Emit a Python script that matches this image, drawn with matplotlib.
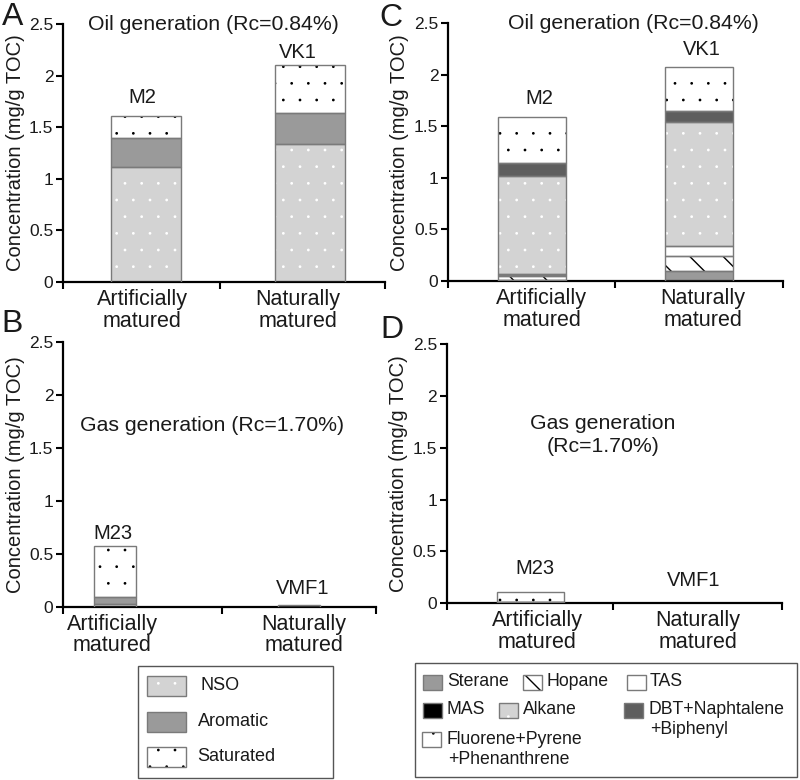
import matplotlib
matplotlib.use("Agg")
import matplotlib.pyplot as plt
import matplotlib.hatch as mhatch
from matplotlib.patches import Rectangle
import numpy as np

plt.rcParams['font.family'] = ['Liberation Sans', 'DejaVu Sans']
plt.rcParams['hatch.linewidth'] = 1.0
# smaller dots for the '.' hatch (texture only)
mhatch.SmallFilledCircles.size = 0.04

# ---------------- data ----------------
categories = ["Artificially\nmatured", "Naturally\nmatured"]
yticks = [0, 0.5, 1, 1.5, 2, 2.5]
ytick_labels = ["0", "0.5", "1", "1.5", "2", "2.5"]

# Panels A/B : bulk fractions (mg/g TOC)
bulk_components = ["NSO", "Aromatic", "Saturated"]
oil_samples = ["M2", "VK1"]
gas_samples = ["M23", "VMF1"]
oil_NSO = [1.11, 1.34]
oil_Aromatic = [0.29, 0.30]
oil_Saturated = [0.21, 0.46]
gas_NSO = [0.03, 0.02]
gas_Aromatic = [0.06, 0.0]
gas_Saturated = [0.48, 0.0]

# Panels C/D : molecular groups (mg/g TOC)
mol_components = ["Sterane", "Hopane", "TAS", "MAS", "Alkane",
                  "DBT+Naphtalene\n+Biphenyl", "Fluorene+Pyrene\n+Phenanthrene"]
oil_Sterane = [0.01, 0.10]
oil_Hopane = [0.04, 0.14]
oil_TAS = [0.01, 0.10]
oil_MAS = [0.005, 0.0]
oil_Alkane = [0.955, 1.20]
oil_DBT = [0.125, 0.11]
oil_Fluorene = [0.445, 0.43]
gas_Sterane = [0.0, 0.0]
gas_Hopane = [0.0, 0.0]
gas_TAS = [0.0, 0.0]
gas_MAS = [0.01, 0.0]
gas_Alkane = [0.0, 0.0]
gas_DBT = [0.005, 0.0]
gas_Fluorene = [0.09, 0.0]

# ---------------- styles ----------------
EDGE = '#7a7a7a'
TXT = '#1a1a1a'
LIGHT = '#d3d3d3'
MID = '#9a9a9a'
DARK = '#5e5e5e'
bulk_styles = [
    dict(face=LIGHT, hc='white', hatch='.'),
    dict(face=MID, hc=MID, hatch=None),
    dict(face='white', hc='black', hatch='.'),
]
mol_styles = [
    dict(face=MID, hc=MID, hatch=None),
    dict(face='white', hc='black', hatch='\\'),
    dict(face='white', hc='white', hatch=None),
    dict(face='black', hc='black', hatch=None),
    dict(face=LIGHT, hc='white', hatch='.'),
    dict(face=DARK, hc=DARK, hatch=None),
    dict(face='white', hc='black', hatch='.'),
]

W, H = 800, 780
fig = plt.figure(figsize=(8, 7.8), dpi=100)


def px_axes(l, r, t, b):
    return fig.add_axes([l / W, 1 - b / H, (r - l) / W, (b - t) / H])


def draw_stack(ax, layers, styles, width):
    xs = np.arange(len(layers[0]), dtype=float)
    bottom = np.zeros(len(xs))
    for vals, st in zip(layers, styles):
        vals = np.asarray(vals, float)
        m = vals > 0
        if m.any():
            ax.bar(xs[m], vals[m], width, bottom=bottom[m], color=st['face'],
                   edgecolor=st['hc'], hatch=st['hatch'], linewidth=0, zorder=2)
            ax.bar(xs[m], vals[m], width, bottom=bottom[m], fill=False,
                   edgecolor=EDGE, linewidth=1.0, zorder=3)
        bottom += vals
    return bottom


def style_axes(ax, xlim, midtick, label_x, ylab_x):
    ax.set_xlim(*xlim)
    ax.set_ylim(0, 2.5)
    for s in ['top', 'right']:
        ax.spines[s].set_visible(False)
    for s in ['left', 'bottom']:
        ax.spines[s].set_linewidth(1.6)
        ax.spines[s].set_color('black')
    ax.set_yticks(yticks)
    ax.set_yticklabels(ytick_labels)
    ax.tick_params(axis='y', length=5, width=1.5, labelsize=12.5, pad=2,
                   colors='black', labelcolor=TXT)
    ax.set_xticks([xlim[0], midtick, xlim[1]])
    ax.set_xticklabels([])
    ax.tick_params(axis='x', which='major', length=5, width=1.5, direction='out')
    ax.set_xticks(label_x, minor=True)
    ax.set_xticklabels(categories, minor=True, fontsize=15.5, color=TXT,
                       linespacing=1.05)
    ax.tick_params(axis='x', which='minor', length=0, pad=5)
    ax.set_ylabel("Concentration (mg/g TOC)", fontsize=14.5, color=TXT)
    ax.yaxis.set_label_coords(ylab_x, 0.5)
    ax.set_facecolor('none')


# panel layout (pixel boxes)
axA = px_axes(63, 385, 24, 282)
axC = px_axes(448, 783, 23.3, 281)
axB = px_axes(63, 376, 341.7, 606.7)
axD = px_axes(446.7, 781.7, 344, 603.3)

# Panel A
draw_stack(axA, [oil_NSO, oil_Aromatic, oil_Saturated], bulk_styles, 0.43)
style_axes(axA, (-0.506, 1.457), 0.451, [-0.024, 0.927], -0.118)
# Panel B
draw_stack(axB, [gas_NSO, gas_Aromatic, gas_Saturated], bulk_styles, 0.228)
style_axes(axB, (-0.283, 1.418), 0.58, [-0.016, 1.027], -0.121)
# Panel C
draw_stack(axC, [oil_Sterane, oil_Hopane, oil_TAS, oil_MAS, oil_Alkane, oil_DBT,
                 oil_Fluorene], mol_styles, 0.41)
style_axes(axC, (-0.503, 1.503), 0.497, [0.058, 1.024], -0.116)
# Panel D
draw_stack(axD, [gas_Sterane, gas_Hopane, gas_TAS, gas_MAS, gas_Alkane, gas_DBT,
                 gas_Fluorene], mol_styles, 0.405)
style_axes(axD, (-0.502, 1.504), 0.494, [0.039, 1.003], -0.116)

# sample labels
sample_fs = 14.5
for ax, names, lx, ly in [
    (axA, oil_samples, [-0.024, 0.927], [1.70, 2.135]),
    (axC, oil_samples, [0.042, 1.02], [1.68, 2.15]),
    (axB, gas_samples, [-0.012, 1.022], [0.60, 0.08]),
    (axD, gas_samples, [0.027, 0.975], [0.245, 0.13]),
]:
    for n, x, y in zip(names, lx, ly):
        ax.text(x, y, n, ha='center', va='bottom', fontsize=sample_fs, color=TXT)

# titles
axA.text(0.468, 1.0, "Oil generation (Rc=0.84%)", transform=axA.transAxes,
         ha='center', va='center', fontsize=15.3, color=TXT)
axC.text(0.555, 1.0, "Oil generation (Rc=0.84%)", transform=axC.transAxes,
         ha='center', va='center', fontsize=15.3, color=TXT)
axB.text(0.476, 1.71 / 2.5, "Gas generation (Rc=1.70%)", transform=axB.transAxes,
         ha='center', va='center', fontsize=15.3, color=TXT)
axD.text(0.467, 1.62 / 2.5, "Gas generation\n(Rc=1.70%)", transform=axD.transAxes,
         ha='center', va='center', fontsize=15.3, color=TXT, linespacing=1.25)

# panel letters
for letter, x, y in [("A", 12.5, 17), ("C", 391, 18), ("B", 12.5, 324), ("D", 392, 330)]:
    fig.text(x / W, 1 - y / H, letter, ha='center', va='center', fontsize=23,
             color=TXT)

# ---------------- legends (figure pixel overlay) ----------------
lg = fig.add_axes([0, 0, 1, 1])
lg.set_xlim(0, W)
lg.set_ylim(H, 0)
lg.axis('off')
lg.set_zorder(-1)


def legend_patch(x, y, w, h, st, hatch_override=None):
    hatch = hatch_override if hatch_override is not None else st['hatch']
    lg.add_patch(Rectangle((x, y - h / 2), w, h, facecolor=st['face'],
                           edgecolor=st['hc'], hatch=hatch, linewidth=0))
    lg.add_patch(Rectangle((x, y - h / 2), w, h, fill=False, edgecolor=EDGE,
                           linewidth=1.0))


# left legend
lg.add_patch(Rectangle((138, 666), 195, 112, fill=False, edgecolor='#555555',
                       linewidth=1.0))
for name, st, y, tx in zip(bulk_components, bulk_styles, [685.5, 722, 756.5],
                           [200, 198, 197]):
    legend_patch(147, y, 39, 20, st)
    lg.text(tx, y, name, ha='left', va='center', fontsize=13, color=TXT)

# right legend
lg.add_patch(Rectangle((415, 663), 382, 114, fill=False, edgecolor='#555555',
                       linewidth=1.0))
mol_pos = [(423, 682, 447), (523, 682, 547), (627, 682, 650), (423, 710, 447),
           (499, 710, 523), (624, 710, 649), (422, 739, 447)]
for name, st, (px, py, tx) in zip(mol_components, mol_styles, mol_pos):
    legend_patch(px, py, 19, 15, st, '\\\\' if st['hatch'] == '\\' else None)
    for k, line in enumerate(name.split('\n')):
        lg.text(tx + (1 if k else 0), py + 20 * k, line, ha='left', va='center',
                fontsize=12.7, color=TXT)

fig.savefig("out.png", dpi=100)
